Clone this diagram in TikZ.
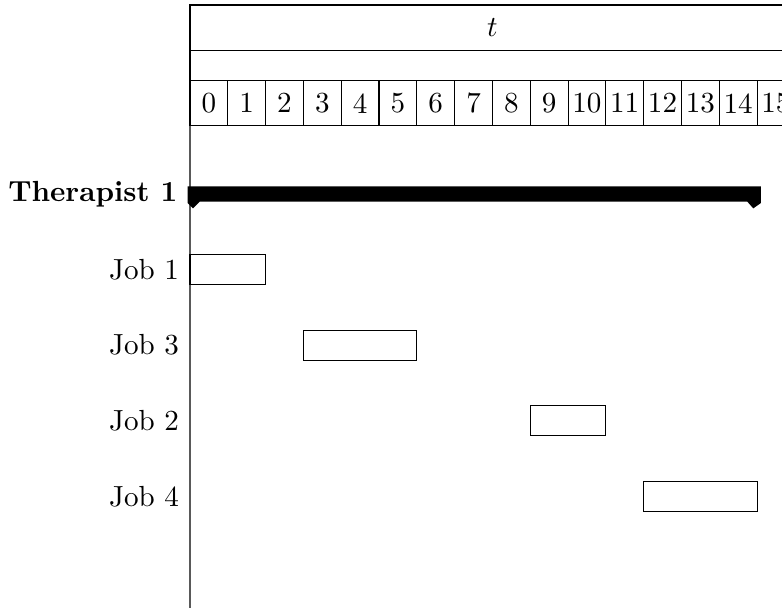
\documentclass[11pt,tikz,border=0pt]{standalone}
\usetikzlibrary{positioning,calc}

\begin{document}
\begin{tikzpicture}[
    rowbox/.style={draw, minimum width=8cm, inner sep=0pt, outer sep=0pt},
    cell/.style={draw, minimum width=0.5cm, minimum height=0.6cm, inner sep=0pt, outer sep=0pt},
    job/.style={draw, minimum height=0.4cm, inner sep=0pt, outer sep=0pt},
    lbl/.style={anchor=east}
]
    \useasboundingbox (-2.513,0.066) rectangle (7.83,-7.963);
    \clip (-2.513,0.066) rectangle (7.83,-7.963);

    \node[rowbox, minimum height=0.6cm] (title) at (4,-0.3) {$t$};
    \node[rowbox, minimum height=0.4cm] (blank) at (4,-0.8) {};
    \foreach \i in {0,...,15}
        \node[cell] (c\i) at (0.25+0.5*\i,-1.3) {\i};

    \draw (title.north west) -- (0,-8.1);

    \node[lbl] (ther) at (-0.03,-2.5) {\textbf{Therapist 1}};
    \fill (-0.03,-2.4) -- (7.55,-2.4) -- (7.55,-2.62) -- (7.45,-2.69) -- (7.37,-2.6)
        -- (0.13,-2.6) -- (0.04,-2.69) -- (-0.03,-2.62) -- cycle;

    \node[lbl] (l1) at (-0.01,-3.5) {Job 1};
    \node[lbl] (l3) at (-0.01,-4.5) {Job 3};
    \node[lbl] (l2) at (-0.01,-5.5) {Job 2};
    \node[lbl] (l4) at (-0.01,-6.5) {Job 4};

    \node[job, minimum width=1cm] (job1) at (0.5,-3.5) {};
    \node[job, minimum width=1.5cm] (job3) at (2.25,-4.5) {};
    \node[job, minimum width=1cm] (job2) at (5,-5.5) {};
    \node[job, minimum width=1.5cm] (job4) at (6.75,-6.5) {};
\end{tikzpicture}
\end{document}
